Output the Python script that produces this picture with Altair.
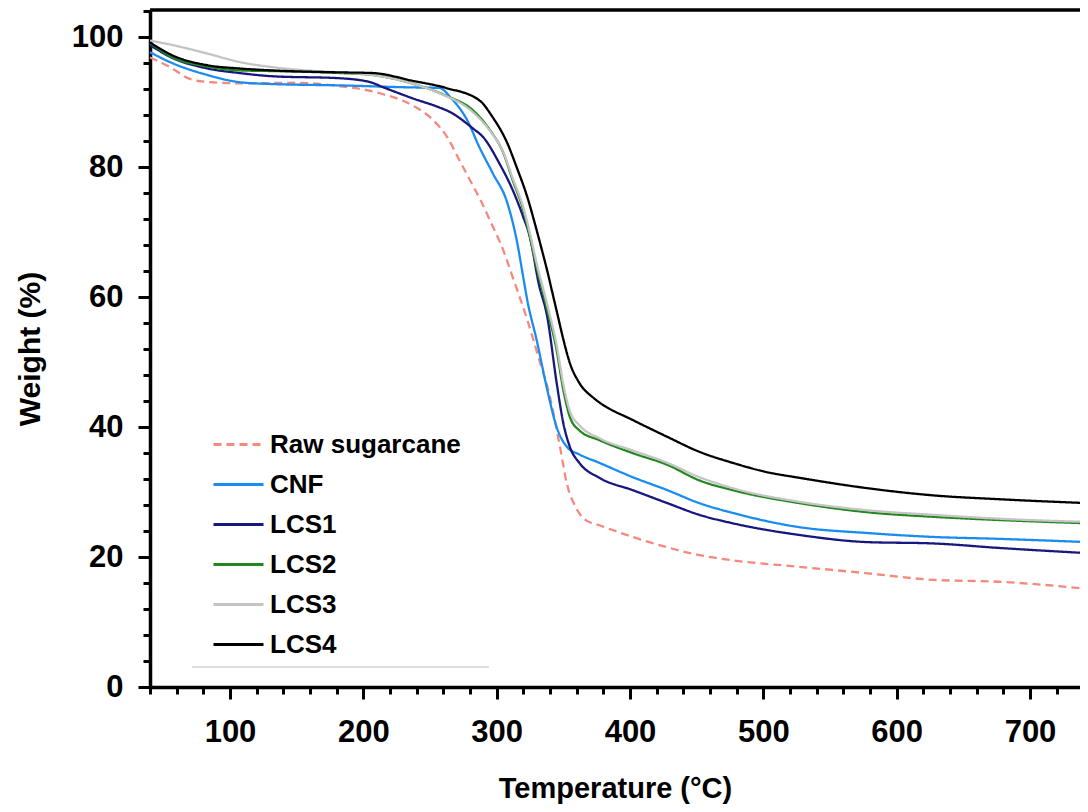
import altair as alt
import pandas as pd

series = ["Raw sugarcane", "CNF", "LCS1", "LCS2", "LCS3", "LCS4"]
colors = ["#F4897E", "#1A8CF0", "#17177F", "#22881E", "#C4C4C4", "#000000"]
dashes = [[8, 5], [1, 0], [1, 0], [1, 0], [1, 0], [1, 0]]

raw_T = [40, 55, 70, 85, 110, 150, 177, 212, 237, 250, 263, 272, 280, 288, 295, 305, 312, 323, 332, 340, 347, 353, 359, 366, 377, 402, 428, 452, 477, 527, 578, 627, 677, 743]
raw_W = [96.9, 95.4, 93.6, 93.1, 92.9, 93.0, 92.6, 91.4, 89.5, 87.7, 84.6, 81.1, 78.0, 74.9, 71.8, 67.2, 63.1, 56.5, 50.3, 44.6, 37.5, 31.0, 27.8, 25.8, 24.9, 23.1, 21.5, 20.3, 19.5, 18.5, 17.5, 16.5, 16.2, 15.1]

cnf_T = [40, 57, 83, 107, 132, 182, 233, 257, 266, 278, 287, 297, 308, 315, 320, 323, 330, 338, 345, 353, 362, 377, 402, 428, 452, 477, 527, 578, 627, 677, 743]
cnf_W = [97.7, 96.0, 94.2, 93.1, 92.8, 92.6, 92.3, 92.2, 90.6, 87.2, 83.1, 79.1, 74.5, 68.8, 63.0, 59.5, 53.4, 45.7, 40.0, 36.9, 35.8, 34.5, 32.3, 30.3, 28.3, 26.8, 24.6, 23.7, 23.1, 22.8, 22.3]

lcs1_T = [40, 57, 83, 107, 132, 182, 205, 215, 237, 257, 265, 282, 290, 302, 312, 320, 325, 327, 331, 338, 345, 350, 355, 362, 377, 402, 428, 452, 477, 527, 578, 627, 677, 743]
lcs1_W = [98.8, 96.8, 95.2, 94.5, 94.0, 93.7, 93.1, 92.3, 90.6, 89.2, 88.5, 86.0, 84.6, 80.6, 76.5, 72.3, 69.2, 67.2, 62.6, 56.9, 46.8, 40.6, 36.9, 34.5, 32.2, 30.3, 28.3, 26.5, 25.2, 23.4, 22.3, 22.1, 21.4, 20.6]

lcs2_T = [40, 57, 83, 107, 132, 182, 207, 233, 262, 282, 295, 305, 312, 320, 325, 330, 338, 345, 350, 355, 362, 377, 402, 428, 452, 477, 527, 578, 627, 677, 743]
lcs2_W = [99.1, 96.9, 95.5, 94.9, 94.8, 94.5, 94.2, 93.1, 91.0, 88.8, 85.7, 82.2, 78.0, 73.4, 69.2, 64.6, 58.0, 51.8, 45.7, 41.5, 39.5, 38.0, 36.0, 34.2, 31.8, 30.3, 28.3, 26.9, 26.2, 25.7, 25.2]

lcs3_T = [40, 57, 83, 107, 132, 157, 182, 207, 233, 257, 282, 295, 305, 312, 320, 325, 330, 338, 345, 350, 355, 362, 377, 402, 428, 452, 477, 527, 578, 627, 677, 743]
lcs3_W = [99.5, 98.8, 97.5, 96.2, 95.4, 94.9, 94.6, 94.2, 93.1, 91.4, 88.5, 85.6, 82.3, 78.3, 73.8, 69.8, 65.2, 58.8, 52.6, 46.6, 42.4, 40.3, 38.3, 36.4, 34.5, 32.3, 30.6, 28.5, 27.2, 26.5, 25.9, 25.4]

lcs4_T = [40, 57, 83, 107, 132, 182, 207, 237, 262, 287, 297, 308, 315, 323, 330, 334, 338, 342, 346, 350, 355, 362, 372, 377, 402, 428, 452, 477, 502, 527, 578, 627, 677, 743]
lcs4_W = [99.2, 97.2, 95.7, 95.2, 94.9, 94.6, 94.5, 93.3, 92.2, 90.3, 87.7, 83.7, 80.0, 75.4, 70.3, 67.2, 64.0, 60.5, 57.0, 53.5, 49.8, 46.8, 44.6, 43.8, 41.1, 38.5, 36.2, 34.5, 33.1, 32.2, 30.6, 29.5, 28.9, 28.3]

all_T = [raw_T, cnf_T, lcs1_T, lcs2_T, lcs3_T, lcs4_T]
all_W = [raw_W, cnf_W, lcs1_W, lcs2_W, lcs3_W, lcs4_W]

rows = []
for name, ts, ws in zip(series, all_T, all_W):
    for t, w in zip(ts, ws):
        rows.append({"Sample": name, "T": t, "W": w})
df = pd.DataFrame(rows)

FONT = "Liberation Sans"
PW, PH = 930, 677

x_axis = alt.Axis(
    values=list(range(40, 741, 20)),
    labelExpr="datum.value % 100 === 0 ? datum.label : ''",
    tickSize={"condition": {"test": "datum.value % 100 === 0", "value": 12}, "value": 7},
    tickWidth=3, tickColor="black", domainWidth=3.5, domainColor="black",
    labelFont=FONT, labelFontSize=31, labelFontWeight="bold", labelColor="black",
    labelPadding=18, labelFlush=False, labelOverlap=False,
    title="Temperature (°C)", titleFont=FONT, titleFontSize=29, titleFontWeight="bold",
    titleColor="black", titlePadding=27, grid=False,
)
y_axis = alt.Axis(
    values=list(range(0, 105, 4)),
    labelExpr="datum.value % 20 === 0 ? datum.label : ''",
    tickSize={"condition": {"test": "datum.value % 20 === 0", "value": 12}, "value": 7},
    tickWidth=3, tickColor="black", domainWidth=3.5, domainColor="black",
    labelFont=FONT, labelFontSize=31, labelFontWeight="bold", labelColor="black",
    labelPadding=15, labelFlush=False, labelOverlap=False,
    title="Weight (%)", titleFont=FONT, titleFontSize=30, titleFontWeight="bold",
    titleColor="black", titlePadding=26, grid=False,
)

legend = alt.Legend(
    title=None, orient="none", legendX=62, legendY=408,
    symbolType="stroke", symbolSize=2500, symbolStrokeWidth=3,
    labelFont=FONT, labelFontSize=26, labelFontWeight="bold", labelColor="black",
    labelOffset=5, labelLimit=400, rowPadding=-11, padding=0,
)

lines = alt.Chart(df).mark_line(strokeWidth=2.3, interpolate="monotone").encode(
    x=alt.X("T:Q", scale=alt.Scale(domain=[40, 737.5], nice=False, zero=False), axis=x_axis),
    y=alt.Y("W:Q", scale=alt.Scale(domain=[0, 104.2], nice=False, zero=False), axis=y_axis),
    color=alt.Color("Sample:N", scale=alt.Scale(domain=series, range=colors), legend=legend, sort=series),
    strokeDash=alt.StrokeDash("Sample:N", scale=alt.Scale(domain=series, range=dashes), legend=legend, sort=series),
)

one = pd.DataFrame({"a": [0]})
top_border = alt.Chart(one).mark_rule(color="black", strokeWidth=3.5).encode(
    x=alt.value(0), x2=alt.value(PW), y=alt.value(0)
)
legend_frame = alt.Chart(one).mark_rule(color="#BBBBBB", strokeWidth=1).encode(
    x=alt.value(42), x2=alt.value(339), y=alt.value(657)
)

chart = alt.layer(lines, legend_frame, top_border).properties(
    width=PW, height=PH,
    autosize=alt.AutoSizeParams(type="none"),
    padding={"left": 142, "top": 2, "right": 0, "bottom": 117},
).configure_view(stroke=None)

chart.save("out.html", embed_options={"renderer": "svg", "actions": False})
